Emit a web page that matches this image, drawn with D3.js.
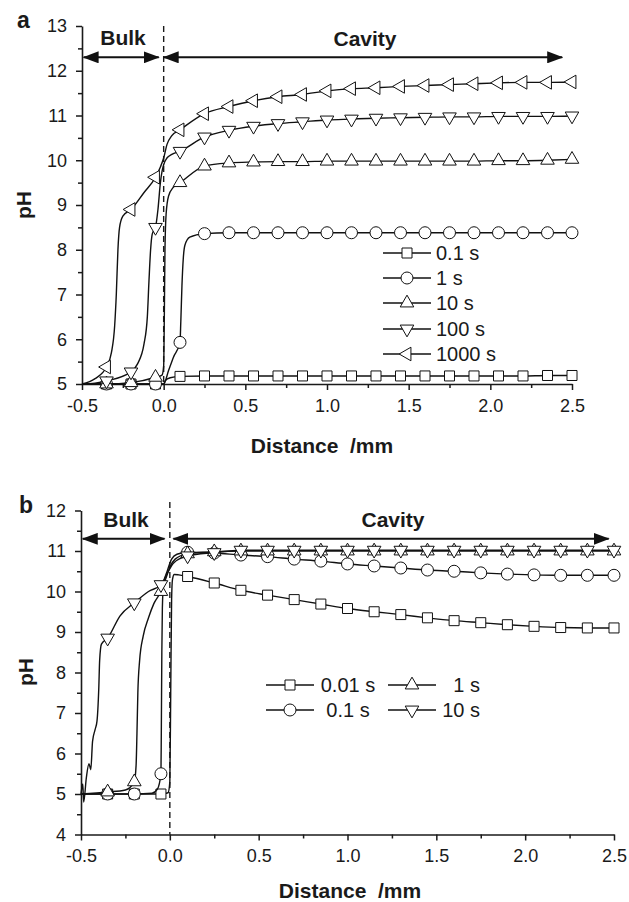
<!DOCTYPE html>
<html>
<head>
<meta charset="utf-8">
<script src="https://cdn.jsdelivr.net/npm/d3@7"></script>
<style>
body { margin: 0; background: #fff; }
text { font-family: "Liberation Sans", Arial, Helvetica, sans-serif; fill: #1a1a1a; }
</style>
</head>
<body>
<svg id="chart" width="629" height="902"></svg>
<script>
// ---------------- data ----------------
// x positions (mm) where the markers sit, same grid for both panels
var markerX = [-0.35, -0.2, -0.05, 0.1, 0.25, 0.4, 0.55, 0.7, 0.85, 1.0,
               1.15, 1.3, 1.45, 1.6, 1.75, 1.9, 2.05, 2.2, 2.35, 2.5];

var xTicks = [-0.5, 0.0, 0.5, 1.0, 1.5, 2.0, 2.5];
var xTickLabels = ["-0.5", "0.0", "0.5", "1.0", "1.5", "2.0", "2.5"];
var xMinorTicks = [-0.25, 0.25, 0.75, 1.25, 1.75, 2.25];

// panel a
var yTicksA = [5, 6, 7, 8, 9, 10, 11, 12, 13];
var yMinorA = [5.5, 6.5, 7.5, 8.5, 9.5, 10.5, 11.5, 12.5];
var namesA = ["0.1 s", "1 s", "10 s", "100 s", "1000 s"];
var shapesA = ["square", "circle", "up", "down", "left"];

var pHA_01   = [5.0, 5.0, 5.0, 5.17, 5.18, 5.18, 5.18, 5.18, 5.18, 5.18, 5.18, 5.18, 5.18, 5.18, 5.18, 5.18, 5.18, 5.18, 5.19, 5.19];
var pHA_1    = [5.0, 5.0, 5.0, 5.93, 8.36, 8.38, 8.38, 8.38, 8.38, 8.38, 8.38, 8.38, 8.38, 8.38, 8.38, 8.38, 8.38, 8.38, 8.38, 8.38];
var pHA_10   = [5.0, 5.03, 5.15, 9.5, 9.87, 9.94, 9.96, 9.97, 9.97, 9.98, 9.98, 9.98, 9.98, 9.98, 9.98, 9.98, 9.99, 9.99, 10.0, 10.02];
var pHA_100  = [5.07, 5.27, 8.5, 10.2, 10.52, 10.67, 10.76, 10.82, 10.86, 10.9, 10.92, 10.94, 10.95, 10.96, 10.97, 10.97, 10.98, 10.98, 10.98, 10.99];
var pHA_1000 = [5.38, 8.9, 9.62, 10.68, 11.04, 11.2, 11.33, 11.42, 11.47, 11.55, 11.6, 11.62, 11.65, 11.67, 11.69, 11.71, 11.73, 11.74, 11.74, 11.75];

// extra curve points between markers (steep fronts)
var curveA_01   = [[-0.5, 5.0], [0.0, 5.0], [0.01, 5.08], [0.04, 5.14]];
var curveA_1    = [[-0.5, 5.0], [0.0, 5.0], [0.03, 5.3], [0.06, 5.6], [0.105, 6.4], [0.112, 7.2], [0.12, 7.8], [0.13, 8.1], [0.16, 8.28]];
var curveA_10   = [[-0.5, 5.0], [-0.01, 5.2], [0.0, 5.4], [0.004, 6.5], [0.008, 8.0], [0.015, 8.8], [0.03, 9.2], [0.06, 9.4]];
var curveA_100  = [[-0.5, 5.0], [-0.42, 5.02], [-0.16, 5.45], [-0.12, 5.9], [-0.1, 6.5], [-0.09, 7.3], [-0.08, 8.0], [-0.07, 8.35],
                   [-0.035, 8.9], [-0.02, 9.5], [-0.01, 9.75], [0.0, 9.9], [0.02, 10.05], [0.05, 10.13]];
var curveA_1000 = [[-0.5, 5.0], [-0.42, 5.12], [-0.32, 5.7], [-0.3, 6.3], [-0.29, 7.0], [-0.28, 8.0], [-0.27, 8.5], [-0.25, 8.75],
                   [-0.12, 9.28], [-0.02, 9.85], [0.0, 10.05], [0.02, 10.35], [0.05, 10.55]];

// panel b
var yTicksB = [4, 5, 6, 7, 8, 9, 10, 11, 12];
var yMinorB = [4.5, 5.5, 6.5, 7.5, 8.5, 9.5, 10.5, 11.5];
var namesB = ["0.01 s", "0.1 s", "1 s", "10 s"];
var shapesB = ["square", "circle", "up", "down"];

var pHB_001 = [5.0, 5.0, 5.0, 10.37, 10.21, 10.03, 9.91, 9.8, 9.69, 9.58, 9.5, 9.43, 9.35, 9.28, 9.23, 9.18, 9.14, 9.11, 9.1, 9.1];
var pHB_01  = [5.0, 5.0, 5.5, 10.97, 10.95, 10.9, 10.86, 10.8, 10.75, 10.68, 10.63, 10.58, 10.53, 10.5, 10.46, 10.43, 10.41, 10.4, 10.4, 10.4];
var pHB_1   = [5.05, 5.3, 10.0, 10.93, 10.98, 11.0, 11.0, 11.0, 11.0, 11.0, 11.0, 11.0, 11.0, 11.0, 11.0, 11.0, 11.0, 11.0, 11.0, 11.0];
var pHB_10  = [8.85, 9.72, 10.17, 10.88, 10.96, 11.02, 11.02, 11.02, 11.02, 11.02, 11.02, 11.02, 11.02, 11.02, 11.02, 11.02, 11.02, 11.02, 11.02, 11.02];

var curveB_001 = [[-0.5, 5.0], [-0.01, 5.03], [0.0, 5.3], [0.005, 7.5], [0.01, 9.8], [0.015, 10.3], [0.025, 10.42], [0.05, 10.41]];
var curveB_01  = [[-0.5, 5.0], [-0.1, 5.02], [-0.07, 5.12], [-0.048, 6.5], [-0.045, 8.5], [-0.042, 9.6], [-0.035, 10.2],
                  [-0.015, 10.5], [0.01, 10.8], [0.04, 10.92]];
var curveB_1   = [[-0.5, 5.0], [-0.25, 5.1], [-0.19, 5.7], [-0.185, 6.5], [-0.18, 7.5], [-0.17, 8.3], [-0.15, 8.9], [-0.12, 9.35],
                  [-0.09, 9.7], [-0.02, 10.35], [0.0, 10.6], [0.03, 10.8]];
var curveB_10  = [[-0.5, 5.0], [-0.49, 5.25], [-0.485, 4.8], [-0.47, 5.4], [-0.455, 5.75], [-0.445, 5.6], [-0.435, 6.3], [-0.42, 6.6],
                  [-0.41, 6.8], [-0.4, 7.6], [-0.395, 8.3], [-0.385, 8.7], [-0.28, 9.4], [-0.12, 10.0], [-0.02, 10.4], [0.02, 10.7]];

// ---------------- drawing ----------------
var svg = d3.select("#chart");
svg.append("rect").attr("width", 629).attr("height", 902).attr("fill", "#fff");

function symbolFor(shape)
{
    if(shape == "square") return d3.symbol(d3.symbolSquare, 100)();
    if(shape == "circle") return d3.symbol(d3.symbolCircle, 113)();
    return d3.symbol(d3.symbolTriangle, 80)();
}
function rotationFor(shape)
{
    if(shape == "down") return 180;
    if(shape == "left") return -90;
    return 0;
}

function buildLine(pH, extra)
{
    var pts = markerX.map(function(x, i) { return [x, pH[i]]; }).concat(extra);
    pts.sort(function(a, b) { return a[0] - b[0]; });
    return pts.filter(function(p, i) { return i == 0 || p[0] != pts[i - 1][0]; });
}

function drawPanel(p)
{
    var x = d3.scaleLinear().domain([-0.5, 2.5]).range(p.xRange);
    var y = d3.scaleLinear().domain(p.yDomain).range(p.yRange);
    var g = svg.append("g");

    // minor ticks
    g.append("g")
        .attr("transform", "translate(0," + p.yRange[0] + ")")
        .call(d3.axisBottom(x).tickValues(xMinorTicks).tickSize(4).tickFormat(""))
        .call(function(a) { a.select(".domain").remove(); });
    g.append("g")
        .attr("transform", "translate(" + p.xRange[0] + ",0)")
        .call(d3.axisLeft(y).tickValues(p.yMinor).tickSize(4).tickFormat(""))
        .call(function(a) { a.select(".domain").remove(); });

    // major axes
    var xa = g.append("g")
        .attr("transform", "translate(0," + p.yRange[0] + ")")
        .call(d3.axisBottom(x).tickValues(xTicks).tickSize(6).tickSizeOuter(0).tickPadding(9)
            .tickFormat(function(d, i) { return xTickLabels[i]; }));
    var ya = g.append("g")
        .attr("transform", "translate(" + p.xRange[0] + ",0)")
        .call(d3.axisLeft(y).tickValues(p.yTicks).tickSize(6).tickSizeOuter(0).tickPadding(9));
    [xa, ya].forEach(function(a) {
        a.selectAll("path, line").attr("stroke", "#1a1a1a").attr("stroke-width", 1.6);
        a.selectAll("text").style("font-size", "18px").attr("fill", "#1a1a1a");
    });
    g.selectAll(".tick line").attr("stroke", "#1a1a1a").attr("stroke-width", 1.5);

    // dashed boundary at x = 0
    g.append("line")
        .attr("x1", x(0)).attr("x2", x(0))
        .attr("y1", p.dashTop).attr("y2", p.yRange[0])
        .attr("stroke", "#1a1a1a").attr("stroke-width", 1.4)
        .attr("stroke-dasharray", "6,4");

    // Bulk / Cavity arrows
    var defsId = "ah" + p.id;
    svg.append("defs").append("marker")
        .attr("id", defsId).attr("viewBox", "0 0 16 12")
        .attr("refX", 15).attr("refY", 6)
        .attr("markerWidth", 16).attr("markerHeight", 12)
        .attr("markerUnits", "userSpaceOnUse")
        .attr("orient", "auto-start-reverse")
        .append("path").attr("d", "M0,0 L16,6 L0,12 Z").attr("fill", "#111");
    p.arrows.forEach(function(a) {
        g.append("line")
            .attr("x1", x(a[0])).attr("x2", x(a[1]))
            .attr("y1", y(p.arrowPH)).attr("y2", y(p.arrowPH))
            .attr("stroke", "#111").attr("stroke-width", 2)
            .attr("marker-start", "url(#" + defsId + ")")
            .attr("marker-end", "url(#" + defsId + ")");
    });
    p.arrowLabels.forEach(function(l) {
        g.append("text")
            .attr("x", l.x).attr("y", l.y)
            .attr("text-anchor", "middle")
            .style("font-size", "21px").style("font-weight", "bold")
            .text(l.text);
    });

    // series
    var line = d3.line()
        .x(function(d) { return x(d[0]); })
        .y(function(d) { return y(d[1]); })
        .curve(d3.curveMonotoneX);
    p.series.forEach(function(s) {
        g.append("path")
            .datum(buildLine(s.pH, s.extra))
            .attr("d", line)
            .attr("fill", "none").attr("stroke", "#111").attr("stroke-width", 1.4);
        g.selectAll(null)
            .data(markerX.map(function(mx, i) { return [mx, s.pH[i]]; }))
            .enter().append("path")
            .attr("d", symbolFor(s.shape))
            .attr("transform", function(d) {
                return "translate(" + x(d[0]) + "," + y(d[1]) + ") rotate(" + rotationFor(s.shape) + ")";
            })
            .attr("fill", "#fff").attr("stroke", "#111").attr("stroke-width", 1);
    });

    // legend
    p.legend.forEach(function(l, i) {
        var s = p.series[i];
        var lg = g.append("g");
        lg.append("line")
            .attr("x1", l.mx - 24).attr("x2", l.mx + 24)
            .attr("y1", l.y).attr("y2", l.y)
            .attr("stroke", "#111").attr("stroke-width", 1.4);
        lg.append("path")
            .attr("d", symbolFor(s.shape))
            .attr("transform", "translate(" + l.mx + "," + l.y + ") rotate(" + rotationFor(s.shape) + ")")
            .attr("fill", "#fff").attr("stroke", "#111").attr("stroke-width", 1);
        lg.append("text")
            .attr("x", l.tx).attr("y", l.y)
            .attr("dy", "0.36em")
            .attr("text-anchor", l.anchor)
            .style("font-size", "20px")
            .text(s.name);
    });

    // titles
    g.append("text")
        .attr("x", p.xTitle[0]).attr("y", p.xTitle[1])
        .attr("text-anchor", "middle")
        .style("font-size", "21px").style("font-weight", "bold")
        .style("white-space", "pre")
        .text("Distance  /mm");
    g.append("text")
        .attr("transform", "translate(" + p.yTitle[0] + "," + p.yTitle[1] + ") rotate(-90)")
        .attr("text-anchor", "middle").attr("dy", "0.36em")
        .style("font-size", "21px").style("font-weight", "bold")
        .text("pH");
    g.append("text")
        .attr("x", p.panelLabel[0]).attr("y", p.panelLabel[1])
        .style("font-size", "23px").style("font-weight", "bold")
        .text(p.id);
}

drawPanel({
    id: "a",
    xRange: [82, 572],
    yDomain: [5, 13],
    yRange: [384, 26],
    yTicks: yTicksA,
    yMinor: yMinorA,
    dashTop: 26,
    arrowPH: 12.3,
    arrows: [[-0.49, -0.03], [0.0, 2.44]],
    arrowLabels: [{text: "Bulk", x: 123, y: 45}, {text: "Cavity", x: 365, y: 46}],
    series: [
        {name: namesA[0], shape: shapesA[0], pH: pHA_01, extra: curveA_01},
        {name: namesA[1], shape: shapesA[1], pH: pHA_1, extra: curveA_1},
        {name: namesA[2], shape: shapesA[2], pH: pHA_10, extra: curveA_10},
        {name: namesA[3], shape: shapesA[3], pH: pHA_100, extra: curveA_100},
        {name: namesA[4], shape: shapesA[4], pH: pHA_1000, extra: curveA_1000}
    ],
    legend: [
        {mx: 407, y: 253, tx: 436, anchor: "start"},
        {mx: 407, y: 278, tx: 436, anchor: "start"},
        {mx: 407, y: 303, tx: 436, anchor: "start"},
        {mx: 407, y: 329, tx: 436, anchor: "start"},
        {mx: 407, y: 354, tx: 436, anchor: "start"}
    ],
    xTitle: [322, 453],
    yTitle: [23, 205],
    panelLabel: [17, 28]
});

drawPanel({
    id: "b",
    xRange: [81, 614],
    yDomain: [4, 12],
    yRange: [834.5, 510.5],
    yTicks: yTicksB,
    yMinor: yMinorB,
    dashTop: 502,
    arrowPH: 11.3,
    arrows: [[-0.49, -0.03], [0.02, 2.47]],
    arrowLabels: [{text: "Bulk", x: 126, y: 527}, {text: "Cavity", x: 393, y: 527}],
    series: [
        {name: namesB[0], shape: shapesB[0], pH: pHB_001, extra: curveB_001},
        {name: namesB[1], shape: shapesB[1], pH: pHB_01, extra: curveB_01},
        {name: namesB[2], shape: shapesB[2], pH: pHB_1, extra: curveB_1},
        {name: namesB[3], shape: shapesB[3], pH: pHB_10, extra: curveB_10}
    ],
    legend: [
        {mx: 290, y: 685, tx: 348, anchor: "middle"},
        {mx: 290, y: 710, tx: 348, anchor: "middle"},
        {mx: 412, y: 685, tx: 480, anchor: "end"},
        {mx: 412, y: 710, tx: 480, anchor: "end"}
    ],
    xTitle: [350, 898],
    yTitle: [25, 672],
    panelLabel: [19, 513]
});
</script>
</body>
</html>
